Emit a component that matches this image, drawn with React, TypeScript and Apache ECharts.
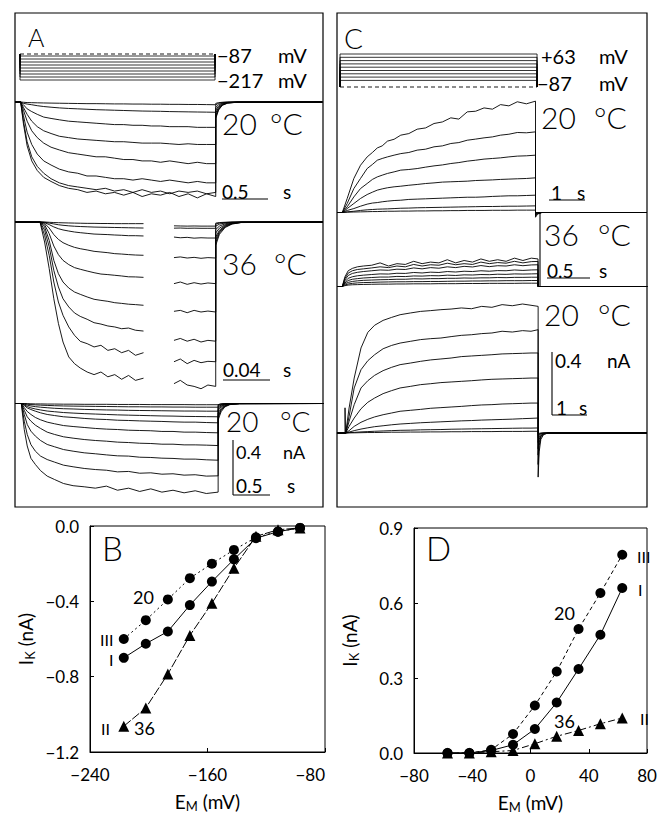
import React, { useEffect, useRef } from "react";
import * as echarts from "echarts";

const FONT = "Lato, 'DejaVu Sans', sans-serif";

// ---------------- Voltage protocols (mV) ----------------
const holdA = -87;
const stepsA = [-97, -112, -127, -142, -157, -172, -187, -202, -217];
const protoDurA = 2.12;
const holdC = -87;
const stepsC = [-57, -42, -27, -12, 3, 18, 33, 48, 63];
const protoDurC = 5.63;

// ---------------- Panel A, 20 °C (I) : time (s), current (nA) ----------------
const preA20 = -0.06;
const tA20 = [0, 0.03, 0.07, 0.12, 0.18, 0.25, 0.33, 0.42, 0.52, 0.62, 0.72, 0.82, 0.92, 1.02, 1.12, 1.22, 1.32, 1.42, 1.52, 1.62, 1.72, 1.82, 1.92, 2.02, 2.12];
const tracesA20 = [
  [0, -0.16, -0.32, -0.43, -0.5, -0.55, -0.58, -0.61, -0.63, -0.64, -0.66, -0.65, -0.67, -0.66, -0.68, -0.66, -0.69, -0.67, -0.68, -0.66, -0.69, -0.67, -0.7, -0.67, -0.69],
  [0, -0.14, -0.29, -0.4, -0.47, -0.52, -0.56, -0.59, -0.61, -0.62, -0.63, -0.64, -0.63, -0.65, -0.64, -0.66, -0.64, -0.66, -0.65, -0.67, -0.65, -0.66, -0.65, -0.67, -0.66],
  [0, -0.1, -0.22, -0.31, -0.38, -0.43, -0.46, -0.49, -0.51, -0.52, -0.54, -0.54, -0.55, -0.56, -0.56, -0.57, -0.56, -0.57, -0.58, -0.57, -0.58, -0.59, -0.58, -0.59, -0.59],
  [0, -0.06, -0.14, -0.21, -0.26, -0.3, -0.33, -0.35, -0.37, -0.38, -0.39, -0.4, -0.4, -0.41, -0.42, -0.42, -0.43, -0.43, -0.44, -0.43, -0.44, -0.45, -0.44, -0.45, -0.45],
  [0, -0.04, -0.09, -0.14, -0.18, -0.21, -0.23, -0.25, -0.26, -0.27, -0.275, -0.28, -0.285, -0.29, -0.29, -0.295, -0.3, -0.3, -0.3, -0.305, -0.31, -0.305, -0.31, -0.31, -0.31],
  [0, -0.02, -0.05, -0.07, -0.09, -0.11, -0.12, -0.13, -0.14, -0.145, -0.15, -0.155, -0.16, -0.165, -0.165, -0.17, -0.17, -0.175, -0.175, -0.18, -0.18, -0.18, -0.185, -0.185, -0.185],
  [0, -0.01, -0.015, -0.02, -0.027, -0.033, -0.038, -0.043, -0.047, -0.05, -0.053, -0.056, -0.058, -0.06, -0.062, -0.064, -0.066, -0.067, -0.068, -0.07, -0.071, -0.072, -0.073, -0.074, -0.075],
  [0, -0.002, -0.004, -0.005, -0.006, -0.007, -0.008, -0.009, -0.01, -0.011, -0.012, -0.012, -0.013, -0.014, -0.014, -0.015, -0.015, -0.016, -0.016, -0.017, -0.017, -0.018, -0.018, -0.019, -0.02],
];
const tailTA20 = [2.12, 2.15, 2.19, 2.25, 2.35, 3.28];
const tailsA20 = [
  [-0.12, -0.06, -0.025, -0.008, -0.002, 0],
  [-0.11, -0.055, -0.022, -0.007, -0.002, 0],
  [-0.1, -0.05, -0.02, -0.006, -0.002, 0],
  [-0.08, -0.04, -0.016, -0.005, -0.001, 0],
  [-0.06, -0.03, -0.012, -0.004, -0.001, 0],
  [-0.04, -0.02, -0.008, -0.003, 0, 0],
  [-0.02, -0.01, -0.004, -0.001, 0, 0],
  [-0.01, -0.005, -0.002, 0, 0, 0],
];

// ---------------- Panel A, 36 °C (II) ----------------
const preA36 = -0.0217;
const tA36 = [0, 0.004, 0.008, 0.012, 0.016, 0.02, 0.025, 0.03, 0.035, 0.041, 0.047, 0.053, 0.059, 0.065, 0.071, 0.077, 0.083, 0.09, 0.103, 0.1165, 0.122, 0.128, 0.134, 0.14, 0.146, 0.1528];
const tracesA36 = [
  [0, -0.146, -0.34, -0.56, -0.74, -0.876, -0.985, -1.034, -1.066, -1.095, -1.114, -1.095, -1.13, -1.114, -1.148, -1.12, -1.156, -1.14, null, -1.18, -1.156, -1.19, -1.2, -1.217, -1.19, -1.2],
  [0, -0.097, -0.243, -0.438, -0.584, -0.681, -0.766, -0.827, -0.871, -0.888, -0.912, -0.9, -0.937, -0.925, -0.954, -0.937, -0.973, -0.954, null, -1.02, -1.0, -1.034, -1.01, -1.027, -1.017, -1.02],
  [0, -0.06, -0.18, -0.353, -0.474, -0.56, -0.62, -0.664, -0.689, -0.71, -0.735, -0.745, -0.759, -0.766, -0.779, -0.774, -0.79, -0.796, null, -0.864, -0.85, -0.87, -0.856, -0.876, -0.864, -0.87],
  [0, -0.036, -0.134, -0.28, -0.377, -0.438, -0.482, -0.511, -0.528, -0.547, -0.564, -0.572, -0.579, -0.589, -0.594, -0.6, -0.603, -0.608, null, -0.652, -0.645, -0.662, -0.645, -0.657, -0.65, -0.657],
  [0, -0.02, -0.085, -0.175, -0.238, -0.28, -0.311, -0.333, -0.345, -0.358, -0.37, -0.38, -0.384, -0.389, -0.394, -0.4, -0.401, -0.404, null, -0.45, -0.438, -0.455, -0.443, -0.453, -0.445, -0.45],
  [0, -0.01, -0.044, -0.092, -0.127, -0.151, -0.17, -0.185, -0.195, -0.204, -0.214, -0.219, -0.224, -0.231, -0.234, -0.238, -0.241, -0.243, null, -0.26, -0.255, -0.263, -0.258, -0.265, -0.26, -0.263],
  [0, -0.005, -0.019, -0.036, -0.049, -0.058, -0.066, -0.073, -0.078, -0.083, -0.088, -0.09, -0.092, -0.095, -0.097, -0.1, -0.1, -0.102, null, -0.11, -0.115, -0.112, -0.118, -0.115, -0.117, -0.117],
  [0, -0.002, -0.008, -0.014, -0.02, -0.024, -0.028, -0.031, -0.033, -0.035, -0.037, -0.038, -0.039, -0.04, -0.041, -0.042, -0.043, -0.044, null, -0.045, -0.044, -0.046, -0.045, -0.046, -0.046, -0.046],
  [0, 0, -0.002, -0.004, -0.005, -0.006, -0.007, -0.008, -0.009, -0.01, -0.01, -0.011, -0.011, -0.012, -0.012, -0.012, -0.012, -0.012, null, -0.028, -0.029, -0.03, -0.029, -0.03, -0.03, -0.03],
];
const tailTA36 = [0.1528, 0.156, 0.161, 0.167, 0.175, 0.246];
const tailsA36 = [
  [-0.17, -0.09, -0.04, -0.015, -0.004, 0],
  [-0.15, -0.08, -0.035, -0.013, -0.003, 0],
  [-0.13, -0.07, -0.03, -0.011, -0.003, 0],
  [-0.11, -0.06, -0.025, -0.009, -0.002, 0],
  [-0.08, -0.045, -0.02, -0.007, -0.002, 0],
  [-0.055, -0.03, -0.013, -0.005, -0.001, 0],
  [-0.03, -0.016, -0.007, -0.003, 0, 0],
  [-0.015, -0.008, -0.004, -0.001, 0, 0],
  [-0.008, -0.004, -0.002, 0, 0, 0],
];

// ---------------- Panel A, 20 °C again (III) ----------------
const preA20b = -0.085;
const tA20b = [0, 0.04, 0.08, 0.13, 0.19, 0.26, 0.35, 0.45, 0.57, 0.7, 0.85, 1.0, 1.15, 1.3, 1.45, 1.6, 1.75, 1.9, 2.05, 2.2, 2.35, 2.5, 2.66];
const tracesA20b = [
  [0, -0.19, -0.31, -0.4, -0.445, -0.49, -0.53, -0.555, -0.584, -0.6, -0.608, -0.618, -0.603, -0.633, -0.618, -0.642, -0.623, -0.647, -0.633, -0.652, -0.637, -0.657, -0.647],
  [0, -0.129, -0.226, -0.3, -0.348, -0.384, -0.409, -0.428, -0.45, -0.462, -0.474, -0.482, -0.487, -0.499, -0.496, -0.509, -0.506, -0.516, -0.513, -0.523, -0.52, -0.53, -0.528],
  [0, -0.08, -0.153, -0.202, -0.238, -0.27, -0.299, -0.316, -0.336, -0.348, -0.36, -0.367, -0.375, -0.382, -0.384, -0.392, -0.394, -0.399, -0.401, -0.406, -0.406, -0.411, -0.414],
  [0, -0.049, -0.097, -0.129, -0.158, -0.182, -0.209, -0.226, -0.243, -0.253, -0.263, -0.27, -0.275, -0.282, -0.285, -0.29, -0.292, -0.297, -0.297, -0.302, -0.302, -0.304, -0.307],
  [0, -0.03, -0.058, -0.08, -0.102, -0.119, -0.136, -0.148, -0.161, -0.168, -0.175, -0.182, -0.187, -0.19, -0.195, -0.197, -0.199, -0.204, -0.204, -0.209, -0.209, -0.212, -0.214],
  [0, -0.015, -0.032, -0.044, -0.056, -0.068, -0.08, -0.088, -0.097, -0.102, -0.109, -0.114, -0.117, -0.122, -0.124, -0.127, -0.129, -0.131, -0.134, -0.136, -0.136, -0.139, -0.141],
  [0, -0.01, -0.022, -0.032, -0.04, -0.047, -0.055, -0.06, -0.066, -0.07, -0.074, -0.077, -0.08, -0.083, -0.085, -0.087, -0.089, -0.091, -0.092, -0.094, -0.095, -0.096, -0.097],
  [0, -0.005, -0.012, -0.018, -0.023, -0.027, -0.031, -0.035, -0.038, -0.04, -0.043, -0.045, -0.047, -0.048, -0.05, -0.051, -0.052, -0.053, -0.054, -0.055, -0.055, -0.056, -0.056],
  [0, -0.002, -0.005, -0.008, -0.01, -0.012, -0.014, -0.016, -0.018, -0.019, -0.02, -0.021, -0.022, -0.023, -0.024, -0.024, -0.025, -0.025, -0.026, -0.026, -0.027, -0.027, -0.027],
  [0, 0, -0.001, -0.002, -0.003, -0.003, -0.004, -0.004, -0.005, -0.005, -0.006, -0.006, -0.006, -0.007, -0.007, -0.007, -0.008, -0.008, -0.008, -0.008, -0.009, -0.009, -0.009],
];
const tailTA20b = [2.66, 2.7, 2.75, 2.82, 2.95, 4.08];
const tailsA20b = [
  [-0.12, -0.06, -0.025, -0.008, -0.002, 0],
  [-0.1, -0.05, -0.02, -0.006, -0.002, 0],
  [-0.09, -0.045, -0.018, -0.005, -0.001, 0],
  [-0.07, -0.035, -0.014, -0.004, -0.001, 0],
  [-0.05, -0.025, -0.01, -0.003, 0, 0],
  [-0.035, -0.018, -0.007, -0.002, 0, 0],
  [-0.025, -0.012, -0.005, -0.001, 0, 0],
  [-0.015, -0.008, -0.003, 0, 0, 0],
  [-0.008, -0.004, -0.001, 0, 0, 0],
  [-0.004, -0.002, 0, 0, 0, 0],
];

// ---------------- Panel C, 20 °C (I) ----------------
const preC20 = -0.15;
const tC20 = [0, 0.14, 0.33, 0.52, 0.71, 0.86, 1.0, 1.14, 1.29, 1.48, 1.67, 1.9, 2.14, 2.38, 2.62, 2.86, 3.1, 3.33, 3.57, 3.81, 4.05, 4.29, 4.52, 4.76, 5.0, 5.26, 5.52];
const tracesC20 = [
  [0, 0.089, 0.216, 0.3, 0.353, 0.381, 0.41, 0.423, 0.453, 0.465, 0.491, 0.501, 0.529, 0.537, 0.565, 0.575, 0.601, 0.593, 0.639, 0.643, 0.664, 0.656, 0.685, 0.677, 0.703, 0.69, 0.707],
  [0, 0.057, 0.152, 0.216, 0.279, 0.305, 0.332, 0.343, 0.353, 0.364, 0.374, 0.381, 0.396, 0.402, 0.417, 0.423, 0.438, 0.444, 0.459, 0.466, 0.474, 0.48, 0.491, 0.497, 0.508, 0.506, 0.512],
  [0, 0.036, 0.099, 0.152, 0.184, 0.21, 0.226, 0.237, 0.248, 0.258, 0.269, 0.273, 0.279, 0.288, 0.296, 0.302, 0.311, 0.317, 0.326, 0.332, 0.339, 0.343, 0.347, 0.353, 0.358, 0.36, 0.364],
  [0, 0.025, 0.057, 0.089, 0.114, 0.129, 0.142, 0.15, 0.157, 0.163, 0.167, 0.173, 0.178, 0.184, 0.188, 0.193, 0.195, 0.197, 0.199, 0.203, 0.205, 0.207, 0.21, 0.212, 0.214, 0.216, 0.22],
  [0, 0.013, 0.025, 0.04, 0.053, 0.06, 0.063, 0.068, 0.072, 0.076, 0.078, 0.083, 0.085, 0.087, 0.089, 0.091, 0.093, 0.095, 0.097, 0.097, 0.099, 0.102, 0.104, 0.106, 0.106, 0.108, 0.11],
  [0, 0.004, 0.008, 0.013, 0.017, 0.019, 0.021, 0.022, 0.023, 0.025, 0.027, 0.028, 0.03, 0.031, 0.032, 0.033, 0.034, 0.035, 0.036, 0.037, 0.038, 0.038, 0.039, 0.04, 0.04, 0.041, 0.042],
  [0, 0.002, 0.003, 0.004, 0.005, 0.006, 0.006, 0.007, 0.008, 0.008, 0.009, 0.009, 0.01, 0.01, 0.011, 0.011, 0.012, 0.012, 0.013, 0.013, 0.013, 0.014, 0.014, 0.014, 0.015, 0.015, 0.015],
];
const tailTC20 = [5.52, 5.58, 5.7, 8.7];
const tailsC20 = [
  [-0.03, -0.01, 0, 0],
  [-0.02, -0.007, 0, 0],
  [-0.015, -0.005, 0, 0],
  [-0.01, -0.003, 0, 0],
  [-0.006, -0.002, 0, 0],
  [-0.003, 0, 0, 0],
  [0, 0, 0, 0],
];

// ---------------- Panel C, 36 °C (II) ----------------
const preC36 = -0.063;
const tC36 = [0, 0.03, 0.07, 0.12, 0.18, 0.25, 0.35, 0.45, 0.55, 0.65, 0.75, 0.85, 0.95, 1.05, 1.15, 1.25, 1.35, 1.45, 1.55, 1.65, 1.75, 1.85, 1.95, 2.05, 2.15, 2.25, 2.33];
const tracesC36 = [
  [0, 0.06, 0.1, 0.115, 0.125, 0.13, 0.135, 0.15, 0.13, 0.145, 0.14, 0.16, 0.145, 0.155, 0.15, 0.17, 0.15, 0.165, 0.155, 0.175, 0.16, 0.17, 0.16, 0.18, 0.165, 0.18, 0.175],
  [0, 0.05, 0.085, 0.1, 0.108, 0.112, 0.118, 0.125, 0.12, 0.13, 0.125, 0.14, 0.13, 0.138, 0.135, 0.148, 0.138, 0.145, 0.14, 0.155, 0.145, 0.152, 0.148, 0.16, 0.15, 0.158, 0.159],
  [0, 0.04, 0.07, 0.083, 0.09, 0.095, 0.1, 0.105, 0.103, 0.11, 0.108, 0.118, 0.112, 0.12, 0.116, 0.125, 0.12, 0.128, 0.124, 0.133, 0.126, 0.132, 0.13, 0.138, 0.132, 0.137, 0.138],
  [0, 0.03, 0.052, 0.062, 0.068, 0.072, 0.076, 0.08, 0.079, 0.084, 0.083, 0.089, 0.086, 0.091, 0.089, 0.095, 0.092, 0.097, 0.095, 0.1, 0.097, 0.101, 0.1, 0.105, 0.102, 0.105, 0.106],
  [0, 0.022, 0.038, 0.046, 0.05, 0.054, 0.057, 0.06, 0.06, 0.064, 0.063, 0.067, 0.066, 0.069, 0.068, 0.072, 0.07, 0.074, 0.073, 0.076, 0.075, 0.078, 0.077, 0.08, 0.079, 0.08, 0.081],
  [0, 0.015, 0.026, 0.032, 0.036, 0.039, 0.041, 0.043, 0.044, 0.046, 0.046, 0.049, 0.048, 0.05, 0.05, 0.052, 0.052, 0.054, 0.053, 0.055, 0.055, 0.057, 0.056, 0.058, 0.058, 0.059, 0.059],
  [0, 0.009, 0.016, 0.02, 0.023, 0.025, 0.026, 0.028, 0.029, 0.03, 0.03, 0.031, 0.031, 0.032, 0.032, 0.033, 0.034, 0.034, 0.035, 0.035, 0.036, 0.036, 0.037, 0.037, 0.037, 0.038, 0.038],
  [0, 0.005, 0.009, 0.011, 0.012, 0.013, 0.014, 0.015, 0.015, 0.016, 0.016, 0.017, 0.017, 0.017, 0.018, 0.018, 0.018, 0.019, 0.019, 0.019, 0.02, 0.02, 0.02, 0.02, 0.021, 0.021, 0.021],
];
const tailTC36 = [2.33, 3.63];
const tailsC36 = [[0, 0], [0, 0], [0, 0], [0, 0], [0, 0], [0, 0], [0, 0], [0, 0]];

// ---------------- Panel C, 20 °C again (III) ----------------
const preC20b = -0.256;
const tC20b = [0, 0.1, 0.25, 0.45, 0.65, 0.85, 1.1, 1.35, 1.6, 1.9, 2.2, 2.5, 2.8, 3.1, 3.4, 3.7, 4.0, 4.3, 4.6, 4.9, 5.2, 5.45, 5.66];
const tracesC20b = [
  [0, 0.159, 0.349, 0.54, 0.639, 0.684, 0.715, 0.734, 0.751, 0.762, 0.772, 0.777, 0.783, 0.787, 0.794, 0.789, 0.804, 0.798, 0.815, 0.808, 0.819, 0.811, 0.804],
  [0, 0.106, 0.286, 0.402, 0.459, 0.497, 0.535, 0.556, 0.571, 0.582, 0.593, 0.599, 0.603, 0.612, 0.62, 0.624, 0.631, 0.635, 0.646, 0.641, 0.65, 0.646, 0.656],
  [0, 0.074, 0.18, 0.286, 0.332, 0.366, 0.396, 0.417, 0.434, 0.444, 0.455, 0.464, 0.47, 0.476, 0.485, 0.489, 0.493, 0.497, 0.502, 0.504, 0.506, 0.508, 0.508],
  [0, 0.042, 0.095, 0.154, 0.195, 0.222, 0.25, 0.269, 0.286, 0.296, 0.307, 0.313, 0.32, 0.324, 0.328, 0.332, 0.337, 0.341, 0.343, 0.345, 0.347, 0.349, 0.349],
  [0, 0.015, 0.042, 0.068, 0.087, 0.102, 0.116, 0.127, 0.138, 0.144, 0.15, 0.157, 0.161, 0.165, 0.169, 0.174, 0.178, 0.18, 0.184, 0.186, 0.188, 0.19, 0.19],
  [0, 0.006, 0.015, 0.025, 0.033, 0.04, 0.046, 0.052, 0.057, 0.061, 0.065, 0.068, 0.071, 0.074, 0.077, 0.079, 0.082, 0.084, 0.086, 0.088, 0.091, 0.093, 0.095],
  [0, 0.002, 0.004, 0.007, 0.009, 0.011, 0.013, 0.015, 0.017, 0.018, 0.02, 0.021, 0.022, 0.024, 0.025, 0.026, 0.027, 0.028, 0.029, 0.03, 0.031, 0.031, 0.032],
  [0, 0.001, 0.001, 0.002, 0.003, 0.003, 0.004, 0.005, 0.005, 0.006, 0.006, 0.007, 0.007, 0.008, 0.008, 0.009, 0.009, 0.009, 0.01, 0.01, 0.01, 0.011, 0.011],
];
const tailTC20b = [5.66, 5.69, 5.74, 5.82, 5.95, 8.86];
const tailsC20b = [
  [-0.28, -0.12, -0.04, -0.01, 0, 0],
  [-0.2, -0.08, -0.03, -0.008, 0, 0],
  [-0.14, -0.06, -0.02, -0.005, 0, 0],
  [-0.1, -0.04, -0.015, -0.004, 0, 0],
  [-0.06, -0.025, -0.008, -0.002, 0, 0],
  [-0.03, -0.012, -0.004, 0, 0, 0],
  [-0.015, -0.006, -0.002, 0, 0, 0],
  [-0.005, -0.002, 0, 0, 0, 0],
];
const artTC20b = [-0.02, -0.02, -0.005];
const artC20b = [0, 0.16, 0];

// ---------------- Panel B: I-V (E_M in mV, I_K in nA) ----------------
const voltB = [-217, -202, -187, -172, -157, -142, -127, -112, -97];
const ivB_I = [-0.7, -0.625, -0.56, -0.42, -0.295, -0.177, -0.065, -0.03, -0.01];
const ivB_II = [-1.063, -0.966, -0.786, -0.581, -0.41, -0.224, -0.055, -0.02, -0.01];
const ivB_III = [-0.6, -0.5, -0.39, -0.277, -0.2, -0.127, -0.06, -0.03, -0.01];
const ticksBX = [-240, -80, 80];
const ticksBY = [-1.2, 0, 0.4];

// ---------------- Panel D ----------------
const voltD = [-57, -42, -27, -12, 3, 18, 33, 48, 63];
const ivD_I = [0, 0, 0.01, 0.033, 0.096, 0.202, 0.336, 0.473, 0.66];
const ivD_II = [0, 0, 0.005, 0.01, 0.037, 0.067, 0.09, 0.117, 0.14];
const ivD_III = [0, 0, 0.013, 0.076, 0.19, 0.326, 0.496, 0.64, 0.793];
const ticksDX = [-80, 80, 40];
const ticksDY = [0, 0.9, 0.3];

// ---------------- layout (pixels) ----------------
const GEO = {
  pA: { left: 15, right: 323, pulse: 20, pxs: 92, top: 48, bottom: 86, refPx: 54, refV: -87, ppu: 0.2 },
  a20: { left: 15, right: 323, pulse: 20.7, pxs: 92, top: 96, bottom: 206, refPx: 102, refV: 0, ppu: 137 },
  a36: { left: 15, right: 323, pulse: 40, pxs: 1150, top: 215, bottom: 395, refPx: 222, refV: 0, ppu: 137 },
  a20b: { left: 15, right: 323, pulse: 21.3, pxs: 74, top: 398, bottom: 505, refPx: 403.5, refV: 0, ppu: 137 },
  pC: { left: 337, right: 647, pulse: 340, pxs: 35, top: 48, bottom: 92, refPx: 87, refV: -87, ppu: 0.22 },
  c20: { left: 337, right: 647, pulse: 342.3, pxs: 35, top: 90, bottom: 216, refPx: 212.5, refV: 0, ppu: 157.5 },
  c36: { left: 337, right: 647, pulse: 342.3, pxs: 84, top: 240, bottom: 290, refPx: 286.5, refV: 0, ppu: 157.5 },
  c20b: { left: 337, right: 647, pulse: 345.7, pxs: 34, top: 295, bottom: 500, refPx: 433, refV: 0, ppu: 157.5 },
};

const LINE = { color: "#000", width: 0.9 };
const minus = (s: string) => s.replace("-", "\u2212");

function buildOption() {
  const grids: any[] = [];
  const xAxes: any[] = [];
  const yAxes: any[] = [];
  const series: any[] = [];

  const addGrid = (g: any) => {
    const i = grids.length;
    grids.push({ left: g.left, top: g.top, width: g.right - g.left, height: g.bottom - g.top });
    xAxes.push({ gridIndex: i, type: "value", show: false, min: (g.left - g.pulse) / g.pxs, max: (g.right - g.pulse) / g.pxs });
    yAxes.push({ gridIndex: i, type: "value", show: false, min: g.refV - (g.bottom - g.refPx) / g.ppu, max: g.refV + (g.refPx - g.top) / g.ppu });
    return i;
  };

  const line = (gi: number, data: any[], style: any = LINE) => ({
    type: "line", xAxisIndex: gi, yAxisIndex: gi, data, symbol: "none", clip: false, silent: true,
    connectNulls: false, lineStyle: style, z: 3,
  });

  const addProtocol = (g: any, hold: number, steps: number[], dur: number) => {
    const gi = addGrid(g);
    steps.forEach((v) => series.push(line(gi, [[0, hold], [0, v], [dur, v], [dur, hold]], { color: "#000", width: 0.8 })));
    series.push(line(gi, [[0, hold], [dur, hold]], { color: "#000", width: 0.9, type: [4, 3] }));
  };

  const addTraces = (g: any, pre: number, t: number[], traces: any[][], tailT: number[], tails: number[][]) => {
    const gi = addGrid(g);
    traces.forEach((vals, k) => {
      const data: any[] = [[pre, 0]];
      t.forEach((ti, i) => data.push([ti, vals[i] === null ? "-" : vals[i]]));
      tailT.forEach((ti, i) => data.push([ti, tails[k][i]]));
      series.push(line(gi, data));
    });
    return gi;
  };

  addProtocol(GEO.pA, holdA, stepsA, protoDurA);
  addTraces(GEO.a20, preA20, tA20, tracesA20, tailTA20, tailsA20);
  addTraces(GEO.a36, preA36, tA36, tracesA36, tailTA36, tailsA36);
  addTraces(GEO.a20b, preA20b, tA20b, tracesA20b, tailTA20b, tailsA20b);
  addProtocol(GEO.pC, holdC, stepsC, protoDurC);
  addTraces(GEO.c20, preC20, tC20, tracesC20, tailTC20, tailsC20);
  addTraces(GEO.c36, preC36, tC36, tracesC36, tailTC36, tailsC36);
  const gcb = addTraces(GEO.c20b, preC20b, tC20b, tracesC20b, tailTC20b, tailsC20b);
  series.push(line(gcb, artTC20b.map((t, i) => [t, artC20b[i]])));

  // I-V plots
  const axisText = { color: "#000", fontSize: 17, fontFamily: FONT, fontWeight: 400 };
  const nameRich = {
    n: { fontSize: 19, fontFamily: FONT, fontWeight: 400, color: "#000" },
    s: { fontSize: 13, fontFamily: FONT, fontWeight: 400, color: "#000", padding: [9, 0, 0, 0] },
  };
  const ivAxes = (gi: number, tx: number[], ty: number[], xNameGap: number, yNameGap: number) => {
    xAxes.push({
      gridIndex: gi, type: "value", min: tx[0], max: tx[1], interval: tx[2],
      axisLine: { onZero: false, lineStyle: { color: "#000", width: 1 } },
      axisTick: { inside: true, length: 4, lineStyle: { color: "#000" } },
      axisLabel: { ...axisText, margin: 14, alignMaxLabel: gi === 8 ? "right" : undefined, formatter: (v: number) => minus(String(v)) },
      splitLine: { show: false },
      name: "{n|E}{s|M}{n| (mV)}", nameLocation: "middle", nameGap: xNameGap, nameTextStyle: { rich: nameRich },
    });
    yAxes.push({
      gridIndex: gi, type: "value", min: ty[0], max: ty[1], interval: ty[2],
      axisLine: { onZero: false, lineStyle: { color: "#000", width: 1 } },
      axisTick: { inside: true, length: 4, lineStyle: { color: "#000" } },
      axisLabel: { ...axisText, margin: 11, formatter: (v: number) => minus(v.toFixed(1)) },
      splitLine: { show: false },
      name: "{n|I}{s|K}{n| (nA)}", nameLocation: "middle", nameGap: yNameGap, nameTextStyle: { rich: nameRich },
    });
  };
  grids.push({ left: 90, top: 526, width: 235, height: 226, show: true, borderColor: "#000", borderWidth: 1 });
  ivAxes(8, ticksBX, ticksBY, 38, 54);
  grids.push({ left: 414, top: 528, width: 233, height: 225, show: true, borderColor: "#000", borderWidth: 1 });
  ivAxes(9, ticksDX, ticksDY, 38, 54);

  const iv = (gi: number, xs: number[], ys: number[], sym: string, dash: any) => ({
    type: "line", xAxisIndex: gi, yAxisIndex: gi, data: xs.map((x, i) => [x, ys[i]]),
    symbol: sym, symbolSize: sym === "triangle" ? 11 : 10, showSymbol: true, clip: false,
    itemStyle: { color: "#000" }, lineStyle: { color: "#000", width: 1, type: dash }, z: 5,
  });
  series.push(iv(8, voltB, ivB_III, "circle", [2, 3]));
  series.push(iv(8, voltB, ivB_I, "circle", "solid"));
  series.push(iv(8, voltB, ivB_II, "triangle", [9, 2]));
  series.push(iv(9, voltD, ivD_III, "circle", [4, 3]));
  series.push(iv(9, voltD, ivD_I, "circle", "solid"));
  series.push(iv(9, voltD, ivD_II, "triangle", [7, 3, 2, 3]));

  // annotations
  const T = (text: string, x: number, y: number, size: number, weight = 400) => ({
    type: "text", x: Math.round(x), y: Math.round(y), silent: true, z: 10,
    style: { text, fill: "#000", font: `${weight} ${size}px ${FONT}`, align: "left", verticalAlign: "middle", textAlign: "left", textVerticalAlign: "middle" },
  });
  const L = (x1: number, y1: number, x2: number, y2: number) => ({
    type: "line", silent: true, z: 10, shape: { x1, y1, x2, y2 }, style: { stroke: "#000", lineWidth: 1.1 },
  });
  const BIG = 30;
  const graphic: any[] = [
    { type: "rect", silent: true, shape: { x: 15, y: 13, width: 308, height: 494 }, style: { fill: "none", stroke: "#000", lineWidth: 1.2 } },
    { type: "rect", silent: true, shape: { x: 337, y: 13, width: 310, height: 494 }, style: { fill: "none", stroke: "#000", lineWidth: 1.2 } },
    // panel A
    T("A", 28, 37, 25, 300),
    T("\u221287", 217, 55, 20), T("mV", 278, 55, 20),
    T("\u2212217", 217, 80, 20), T("mV", 278, 80, 20),
    T("20", 222, 123, BIG, 300), T("\u00B0C", 270, 123, BIG, 300),
    T("0.5", 222, 191, 19), T("s", 283, 191, 19), L(222, 199, 268, 199),
    T("36", 222, 263, BIG, 300), T("\u00B0C", 274, 263, BIG, 300),
    T("0.04", 223, 369, 19), T("s", 283, 369, 19), L(223, 380, 270, 380),
    T("20", 226, 421, 28, 300), T("\u00B0C", 280, 421, 28, 300),
    T("0.4", 236, 452, 18), T("nA", 283, 452, 18),
    T("0.5", 236, 485, 19), T("s", 287, 485, 19),
    L(233, 440, 233, 495), L(233, 495, 270, 495),
    // panel C
    T("C", 344, 38, 28, 300),
    T("+63", 541, 56, 20), T("mV", 599, 56, 20),
    T("\u221287", 537, 83, 20), T("mV", 599, 83, 20),
    T("20", 541, 117, BIG, 300), T("\u00B0C", 594, 117, BIG, 300),
    T("1", 551, 192, 19), T("s", 577, 192, 19), L(549, 200, 585, 200),
    L(540, 213, 540, 287),
    T("36", 544, 234, BIG, 300), T("\u00B0C", 598, 234, BIG, 300),
    T("0.5", 547, 270, 19), T("s", 599, 270, 19), L(547, 278, 590, 278),
    T("20", 544, 314, BIG, 300), T("\u00B0C", 598, 314, BIG, 300),
    T("0.4", 555, 360, 19), T("nA", 607, 360, 19),
    T("1", 556, 407, 19), T("s", 579, 407, 19),
    L(552, 352, 552, 415), L(552, 415, 587, 415),
    // panel B
    T("B", 102, 548, 33, 300),
    T("20", 133, 597, 18),
    T("III", 100, 639, 16),
    T("I", 109, 659, 16),
    T("II", 101, 728, 16),
    T("36", 134, 728, 18),
    // panel D
    T("D", 426, 548, 33, 300),
    T("III", 637, 556, 16),
    T("I", 638, 589, 16),
    T("20", 554, 613, 18),
    T("36", 554, 721, 18),
    T("II", 640, 718, 16),
  ];

  return {
    animation: false,
    backgroundColor: "#fff",
    textStyle: { fontFamily: FONT },
    grid: grids,
    xAxis: xAxes,
    yAxis: yAxes,
    series,
    graphic,
  };
}

export default function App() {
  const ref = useRef<HTMLDivElement>(null);
  useEffect(() => {
    if (!ref.current) return;
    const chart = echarts.init(ref.current, undefined, { renderer: "svg" });
    chart.setOption(buildOption() as any);
    return () => chart.dispose();
  }, []);
  return (
    <div
      ref={ref}
      style={{ position: "absolute", left: 0, top: 0, width: 664, height: 816, background: "#fff" }}
    />
  );
}
